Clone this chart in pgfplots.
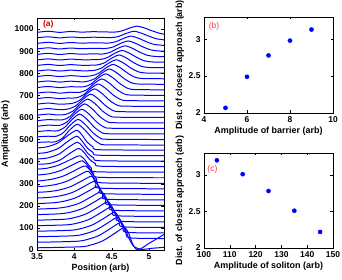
\documentclass[border=0pt]{standalone}
\usepackage{pgfplots}
\pgfplotsset{compat=1.18}
\usepackage{fontspec}
\setmainfont{Liberation Sans}
\definecolor{mblue}{RGB}{0,0,255}
\definecolor{mred}{RGB}{220,0,0}
\definecolor{lred}{RGB}{255,60,60}
\begin{document}
\begin{tikzpicture}
\useasboundingbox (0,0) rectangle (342bp,280bp);
\pgfplotsset{
 myax/.style={scale only axis, anchor=south west,
   axis line style={line width=0.5pt}, tick style={black, line width=0.4pt},
   major tick length=2.5bp,
   ticklabel style={font=\bfseries\fontsize{8.5}{9}\selectfont},
   /pgf/number format/assume math mode=true,
   /pgf/number format/1000 sep={},
   label style={font=\bfseries\fontsize{9}{10}\selectfont},
   xlabel style={yshift=2pt}, ylabel style={yshift=-2pt}},
 ac/.style={draw=mblue, mark=none, line width=1pt, smooth, tension=0.45}
}
% ---------------- panel (a) ----------------
\begin{axis}[myax, at={(37bp,30bp)}, width=127bp, height=232bp,
  xmin=3.5, xmax=5.2, ymin=0, ymax=1050,
  xtick={3.5,4,4.5,5}, ytick={0,100,...,1000},
  xlabel={Position (arb)}, ylabel={Amplitude (arb)}]
\addplot[ac] coordinates {(3.5,10)(4.08,14.5)(4.23,23.5)(4.38,41.5)(4.53,73)(4.63,95.5)(4.68,100)(4.73,73)(4.78,28)(4.85,0)(5.0,30)(5.2,70)};
\addplot[ac] coordinates {(3.5,35)(4.03,39.4)(4.18,48.2)(4.33,65.8)(4.48,96.6)(4.58,118.6)(4.63,123)(4.68,96.6)(4.73,52.6)(4.80,15)(4.9,3)(5.05,8)(5.2,12)};
\addplot[ac] coordinates {(3.5,60)(3.99,64.4)(4.14,73)(4.29,90.5)(4.44,121)(4.54,142.7)(4.59,147)(4.64,121)(4.69,77.4)(4.74,55)(5.2,52)};
\addplot[ac] coordinates {(3.5,85)(3.95,89.3)(4.10,97.8)(4.25,114.8)(4.40,144.5)(4.50,165.8)(4.55,170)(4.60,144.5)(4.65,102)(4.70,80)(5.2,77)};
\addplot[ac] coordinates {(3.5,110)(3.90,114)(4.05,122.5)(4.20,139)(4.35,168)(4.45,189)(4.50,193)(4.55,168)(4.60,126.6)(4.65,105)(5.2,102)};
\addplot[ac] coordinates {(3.5,135)(3.86,139)(4.01,147.3)(4.16,163.7)(4.31,192.4)(4.41,213)(4.46,217)(4.51,192.4)(4.56,151.4)(4.61,130)(5.2,127)};
\addplot[ac] coordinates {(3.5,160)(3.81,164)(3.96,172)(4.11,188)(4.26,216)(4.36,236)(4.41,240)(4.46,216)(4.51,176)(4.56,155)(5.2,152)};
\addplot[ac] coordinates {(3.5,185)(3.77,189)(3.92,196.7)(4.07,212.3)(4.22,239.6)(4.32,259)(4.37,263)(4.42,239.6)(4.47,200.6)(4.52,180)(5.2,177)};
\addplot[ac] coordinates {(3.5,210)(3.72,213.8)(3.87,221.4)(4.02,236.6)(4.17,263.2)(4.27,282.2)(4.32,286)(4.37,263.2)(4.42,225.2)(4.47,205)(5.2,202)};
\addplot[ac] coordinates {(3.5,235)(3.68,238.8)(3.83,246.3)(3.98,261.3)(4.13,287.5)(4.23,306.3)(4.28,310)(4.33,287.5)(4.38,250)(4.43,230)(5.2,227)};
\addplot[ac] coordinates {(3.5,261)(3.64,263.7)(3.79,271)(3.94,285.6)(4.09,311)(4.19,329.4)(4.24,333)(4.29,311)(4.34,274.6)(4.39,255)(5.2,252)};
\addplot[ac] coordinates {(3.5,288)(3.59,288.6)(3.74,295.7)(3.89,309.9)(4.04,334.7)(4.14,352.5)(4.19,356)(4.24,334.7)(4.29,299.2)(4.34,280)(5.2,277)};
\addplot[ac] coordinates {(3.5,313)(3.55,313.5)(3.70,320.5)(3.85,334.5)(4.00,359)(4.10,376.5)(4.15,380)(4.20,366)(4.25,341.5)(4.30,320.5)(4.37,304)(5.2,302)};
\addplot[ac] coordinates {(3.5,339)(3.66,345)(3.81,358.8)(3.96,382.6)(4.06,399.6)(4.11,403)(4.16,389.4)(4.21,365.6)(4.26,345.2)(4.33,329)(5.2,327)};
\addplot[ac] coordinates {(3.5,366)(3.63,369.9)(3.78,383.1)(3.93,406.2)(4.03,422.7)(4.08,426)(4.13,412.8)(4.18,389.7)(4.23,369.9)(4.30,354)(5.2,352)};
\addplot[ac] coordinates {(3.5,388)(3.66,391)(3.81,407.5)(3.94,437.5)(4.06,460)(4.13,441.3)(4.20,411.3)(4.28,391)(4.36,379)(5.2,377)};
\addplot[ac] coordinates {(3.5,412)(3.64,416.2)(3.79,433.4)(3.92,464.6)(4.04,488)(4.11,468.5)(4.18,437.3)(4.26,416.2)(4.34,404)(5.2,402)};
\addplot[ac] coordinates {(3.5,437)(3.63,441.4)(3.78,459)(3.91,491)(4.03,515)(4.10,495)(4.17,463)(4.25,441.4)(4.33,429)(5.2,427)};
\addplot[ac] coordinates {(3.5,462)(3.63,466.6)(3.78,484.6)(3.91,517.4)(4.03,542)(4.10,521.5)(4.17,488.7)(4.25,466.6)(4.33,454)(5.2,452)};
\addplot[ac] coordinates {(3.5,487)(3.65,489)(3.74,489.2)(3.84,506)(3.94,543.8)(4.04,569)(4.14,543.8)(4.24,506)(4.34,481)(4.44,476)(5.2,475)};
\addplot[ac] coordinates {(3.5,512)(3.65,515)(3.75,514)(3.85,530.3)(3.95,566.7)(4.05,591)(4.15,566.7)(4.25,530.3)(4.35,506)(4.45,501)(5.2,500)};
\addplot[ac] coordinates {(3.5,536)(3.65,540)(3.77,539)(3.87,555)(3.97,591)(4.07,615)(4.17,591)(4.27,555)(4.37,531)(4.47,526)(5.2,525)};
\addplot[ac] coordinates {(3.5,560)(3.65,565)(3.80,563.9)(3.90,579.3)(4.00,613.9)(4.10,637)(4.20,613.9)(4.30,579.3)(4.40,556)(4.50,551)(5.2,550)};
\addplot[ac] coordinates {(3.5,585)(3.65,590)(3.84,588.8)(3.94,604)(4.04,638.2)(4.14,661)(4.24,638.2)(4.34,604)(4.44,581)(4.54,576)(5.2,575)};
\addplot[ac] coordinates {(3.5,610)(3.65,615)(3.78,611)(3.88,613.7)(3.98,628.3)(4.08,661.1)(4.18,683)(4.28,661.1)(4.38,628.3)(4.48,606)(4.58,601)(5.2,600)};
\addplot[ac] coordinates {(3.5,635)(3.65,640)(3.8,635)(3.92,638.5)(4.02,652.5)(4.12,684)(4.22,705)(4.32,684)(4.42,652.5)(4.52,631)(4.62,626)(5.2,625)};
\addplot[ac] coordinates {(3.5,660)(3.65,665)(3.8,660)(3.97,663.5)(4.07,677.3)(4.17,708.3)(4.27,729)(4.37,708.3)(4.47,677.3)(4.57,656)(4.67,651)(5.2,650)};
\addplot[ac] coordinates {(3.5,685)(3.65,690)(3.8,685)(3.92,688)(4.02,688.3)(4.12,701.5)(4.22,731.2)(4.32,751)(4.42,731.2)(4.52,701.5)(4.62,681)(4.72,676)(5.2,675)};
\addplot[ac] coordinates {(3.5,710)(3.65,715)(3.8,710)(3.95,714)(4.07,713.2)(4.17,726)(4.27,754.8)(4.37,774)(4.47,754.8)(4.57,726)(4.67,706)(4.77,701)(5.2,700)};
\addplot[ac] coordinates {(3.5,735)(3.65,740)(3.8,735)(3.95,739)(4.12,738.1)(4.22,750.5)(4.32,778.4)(4.42,797)(4.52,778.4)(4.62,750.5)(4.72,731)(4.82,726)(5.2,725)};
\addplot[ac] coordinates {(3.5,760)(3.65,765)(3.8,760)(3.95,764)(4.1,761)(4.17,763)(4.27,774.8)(4.37,801.3)(4.47,819)(4.57,801.3)(4.67,774.8)(4.77,756)(4.87,751)(5.2,750)};
\addplot[ac] coordinates {(3.5,785)(3.65,790)(3.8,785)(3.95,789)(4.1,786)(4.22,787.8)(4.32,798.8)(4.42,823.5)(4.52,840)(4.62,823.5)(4.72,798.8)(4.82,781)(4.92,776)(5.2,775)};
\addplot[ac] coordinates {(3.5,810)(3.65,815)(3.8,810)(3.95,814)(4.1,811)(4.26,812.6)(4.36,822.8)(4.46,845.7)(4.56,861)(4.66,845.7)(4.76,822.8)(4.86,806)(4.96,801)(5.2,800)};
\addplot[ac] coordinates {(3.5,835)(3.65,840)(3.8,835)(3.95,839)(4.1,836)(4.3,837.4)(4.4,846.9)(4.5,868.3)(4.6,882.5)(4.7,868.3)(4.8,846.9)(4.9,831)(5.0,826)(5.2,825)};
\addplot[ac] coordinates {(3.5,860)(3.65,865)(3.8,860)(3.95,864)(4.1,861)(4.34,862.2)(4.44,870.8)(4.54,890.1)(4.64,903)(4.74,890.1)(4.84,870.8)(4.94,856)(5.04,851)(5.2,850)};
\addplot[ac] coordinates {(3.5,885)(3.65,890)(3.8,885)(3.95,889)(4.1,886)(4.25,888)(4.38,887)(4.48,894.8)(4.58,912.3)(4.68,924)(4.78,912.3)(4.88,894.8)(4.98,881)(5.08,876)(5.2,875)};
\addplot[ac] coordinates {(3.5,910)(3.65,915)(3.8,910)(3.95,914)(4.1,911)(4.25,913)(4.42,912)(4.52,919)(4.62,935.2)(4.72,946)(4.82,935.2)(4.92,919)(5.02,906)(5.12,901)(5.2,900)};
\addplot[ac] coordinates {(3.5,935)(3.65,940)(3.8,935)(3.95,939)(4.1,936)(4.25,938)(4.46,936.7)(4.56,943.3)(4.66,958.1)(4.76,968)(4.86,958.1)(4.96,943.3)(5.06,931)(5.2,926)};
\addplot[ac] coordinates {(3.5,960)(3.65,965)(3.8,960)(3.95,964)(4.1,961)(4.25,963)(4.5,961.5)(4.6,967.5)(4.7,981)(4.8,990)(4.9,981)(5.0,967.5)(5.1,956)(5.2,951)};
\addplot[ac] coordinates {(3.5,985)(3.65,990)(3.8,985)(3.95,989)(4.1,986)(4.25,988)(4.54,986.4)(4.64,992)(4.74,1004.6)(4.84,1013)(4.94,1004.6)(5.04,992)(5.14,981)(5.2,977)};
\node[anchor=west, text=mred, font=\bfseries\fontsize{8.5}{9}\selectfont] at (rel axis cs:0.02,0.972) {(a)};
\end{axis}
% ---------------- panel (b) ----------------
\begin{axis}[myax, at={(204bp,167bp)}, width=129bp, height=96bp,
  xmin=4, xmax=10, ymin=2, ymax=3.3,
  xtick={4,6,8,10}, ytick={2,2.5,3},
  xlabel={Amplitude of barrier (arb)}, ylabel={Dist. of closest approach (arb)}]
\addplot[only marks, mark=*, mark size=2.1pt, mblue] coordinates {(5,2.07)(6,2.49)(7,2.78)(8,2.98)(9,3.13)};
\node[anchor=west, text=lred, font=\fontsize{8.5}{9}\selectfont] at (rel axis cs:0.01,0.9) {(b)};
\end{axis}
% ---------------- panel (c) ----------------
\begin{axis}[myax, at={(204bp,32bp)}, width=129bp, height=95bp,
  xmin=100, xmax=150, ymin=2, ymax=3.3,
  xtick={100,110,...,150}, ytick={2,2.5,3},
  xlabel={Amplitude of soliton (arb)}, ylabel={Dist. of closest approach (arb)}]
\addplot[only marks, mark=*, mark size=2.1pt, mblue] coordinates {(105,3.20)(115,3.01)(125,2.78)(135,2.51)(145,2.22)};
\node[text=lred, font=\fontsize{8.5}{9}\selectfont] at (rel axis cs:0.065,0.83) {(c)};
\end{axis}
\end{tikzpicture}
\end{document}
